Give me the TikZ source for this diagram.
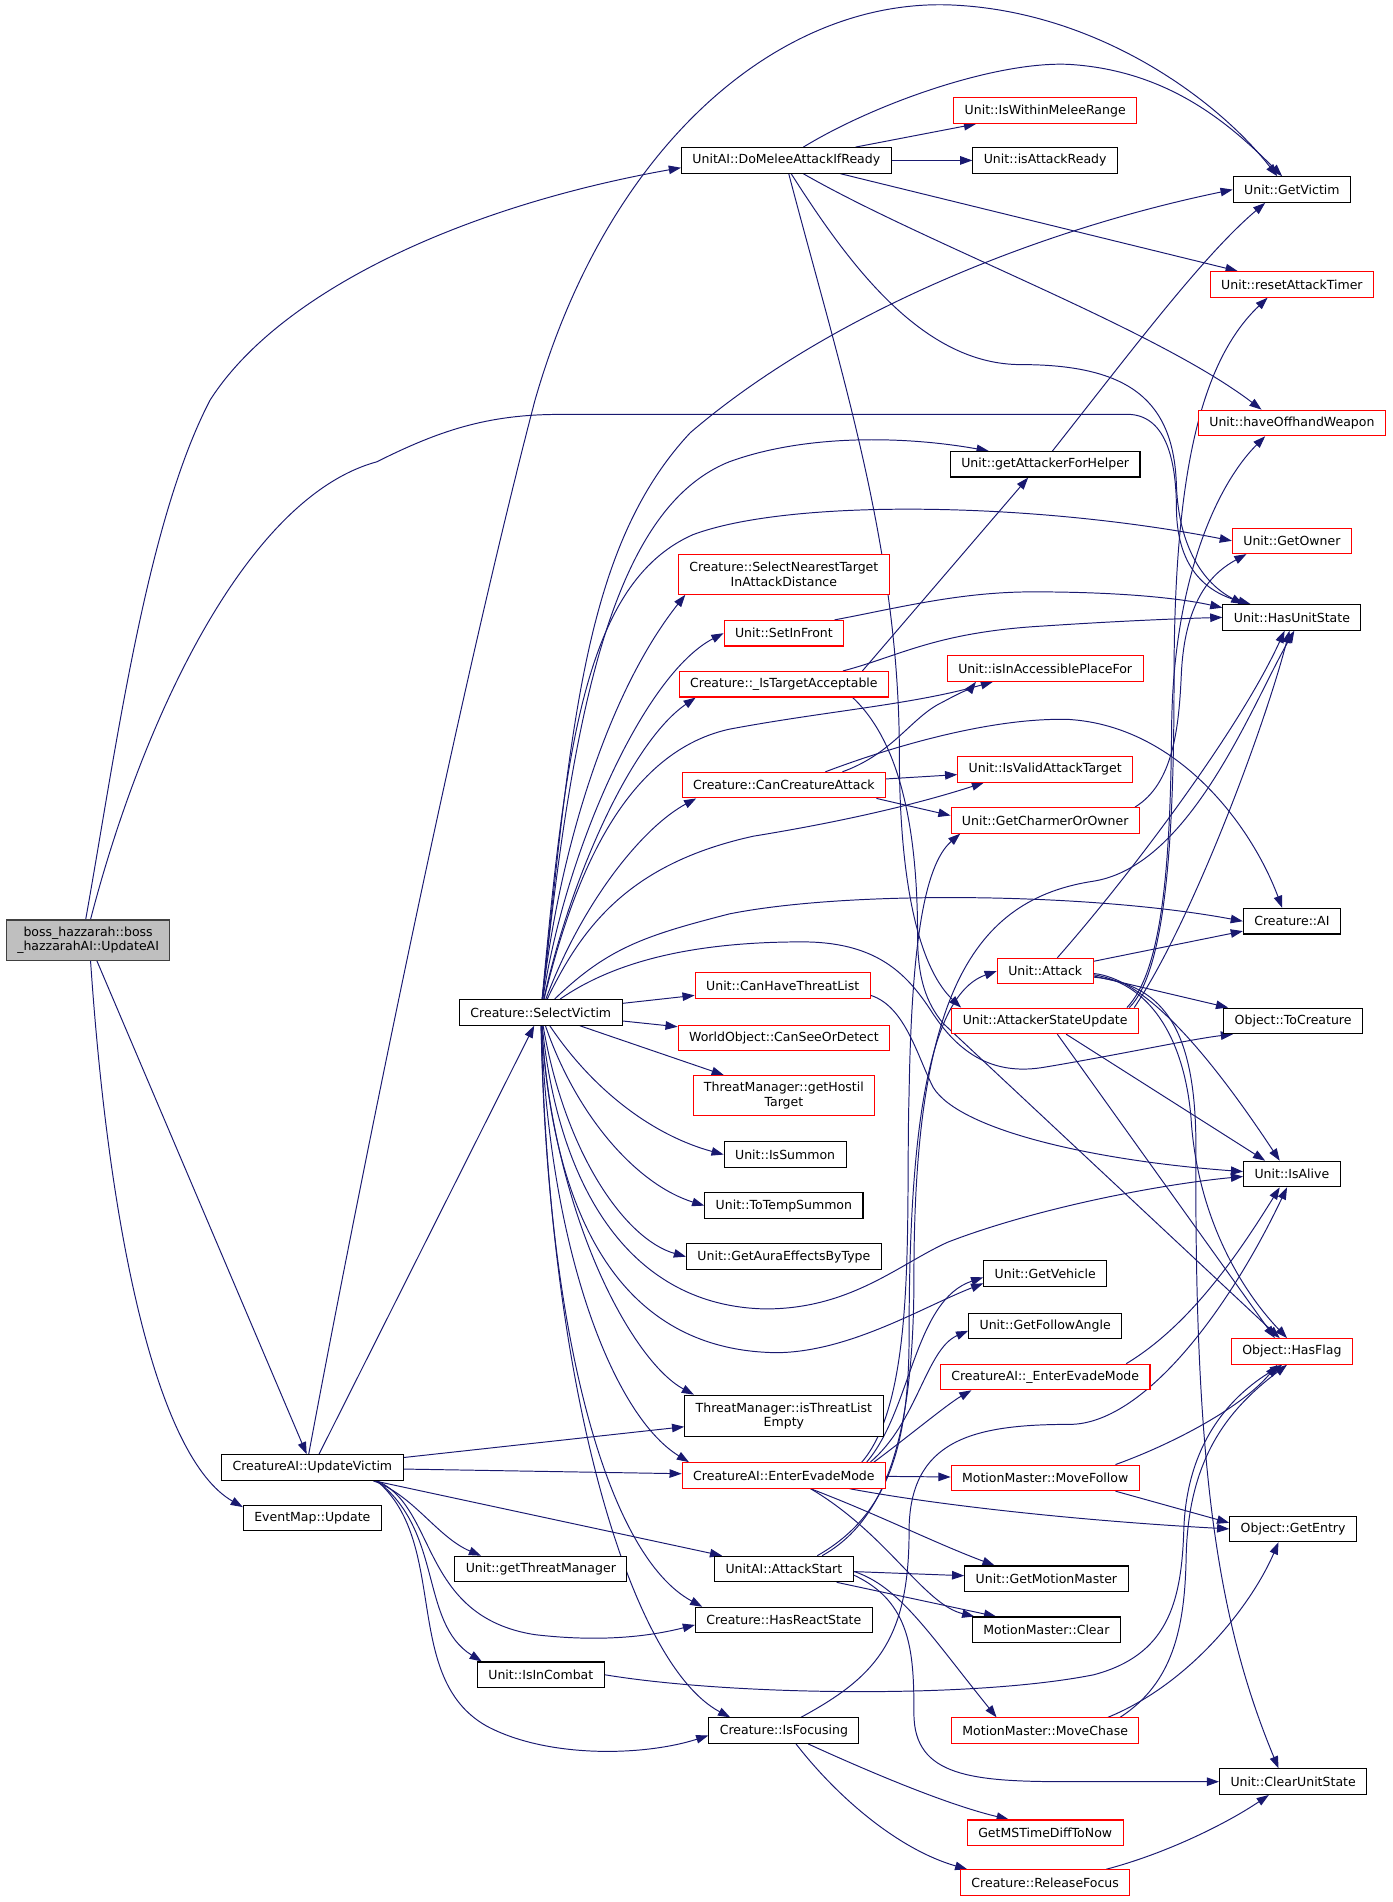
\documentclass[tikz,border=0pt]{standalone}
\usepackage{fontspec}
\setmainfont{DejaVu Sans}
\usepackage{tikz}
\usetikzlibrary{arrows.meta,backgrounds}
\definecolor{callblue}{HTML}{191970}
\definecolor{rootgray}{HTML}{BFBFBF}
\tikzstyle{fn}     = [draw=black, fill=white, line width=0.9pt, font=\fontsize{10.3}{12}\selectfont, align=center, inner xsep=9pt, inner ysep=2pt, minimum height=21pt]
\tikzstyle{fnred}  = [fn, draw=red]
\tikzstyle{fnroot} = [fn, fill=rootgray, draw=black!75, minimum height=33pt]
\tikzstyle{call}   = [callblue, line width=0.8pt, -{Triangle[length=10pt,width=7pt]}]

\begin{document}
\begin{tikzpicture}[x=1pt,y=-1pt]
	\useasboundingbox (0,0) rectangle (1146,1565);

	% callers on the left
	\node[fnroot] (updateai) at (72.5,773.5) {boss\_hazzarah::boss\\\_hazzarahAI::UpdateAI};
	\node[fn] (updatevictim) at (257,1207.5) {CreatureAI::UpdateVictim};
	\node[fn] (eventmap) at (257,1249) {EventMap::Update};
	\node[fn] (selectvictim) at (445,833) {Creature::SelectVictim};
	\node[fn] (threatmgr) at (445,1291) {Unit::getThreatManager};
	\node[fn] (incombat) at (445,1378) {Unit::IsInCombat};

	% middle column
	\node[fn] (domelee) at (647,132) {UnitAI::DoMeleeAttackIfReady};
	\node[fnred, minimum height=33pt] (nearest) at (645,472.5) {Creature::SelectNearestTarget\\InAttackDistance};
	\node[fnred] (setinfront) at (645,521) {Unit::SetInFront};
	\node[fnred] (acceptable) at (645,563) {Creature::\_IsTargetAcceptable};
	\node[fnred] (cancreature) at (645,646) {Creature::CanCreatureAttack};
	\node[fnred] (threatlist) at (644,811) {Unit::CanHaveThreatList};
	\node[fnred] (canseeor) at (645,854) {WorldObject::CanSeeOrDetect};
	\node[fnred, minimum height=33pt] (hostil) at (645,901.5) {ThreatManager::getHostil\\Target};
	\node[fn] (issummon) at (646,950) {Unit::IsSummon};
	\node[fn] (tempsummon) at (645,992) {Unit::ToTempSummon};
	\node[fn] (aura) at (645,1034) {Unit::GetAuraEffectsByType};
	\node[fn, minimum height=34pt] (threatempty) at (645,1165) {ThreatManager::isThreatList\\Empty};
	\node[fnred] (evade) at (645,1214) {CreatureAI::EnterEvadeMode};
	\node[fn] (attackstart) at (645,1291) {UnitAI::AttackStart};
	\node[fn] (hasreact) at (645,1333) {Creature::HasReactState};
	\node[fn] (isfocusing) at (645,1424) {Creature::IsFocusing};

	% second column from the right
	\node[fnred] (inmelee) at (860,91) {Unit::IsWithinMeleeRange};
	\node[fn] (attackready) at (860,132) {Unit::isAttackReady};
	\node[fn] (helper) at (860,382) {Unit::getAttackerForHelper};
	\node[fnred] (accessible) at (860,550) {Unit::isInAccessiblePlaceFor};
	\node[fnred] (validtarget) at (860,633) {Unit::IsValidAttackTarget};
	\node[fnred] (charmer) at (860,675) {Unit::GetCharmerOrOwner};
	\node[fnred] (attack) at (860,799) {Unit::Attack};
	\node[fnred] (stateupdate) at (860,840) {Unit::AttackerStateUpdate};
	\node[fn] (vehicle) at (860,1048) {Unit::GetVehicle};
	\node[fn] (followangle) at (860,1091) {Unit::GetFollowAngle};
	\node[fnred] (evadeint) at (860,1133) {CreatureAI::\_EnterEvadeMode};
	\node[fnred] (movefollow) at (860,1216) {MotionMaster::MoveFollow};
	\node[fn] (motionmaster) at (861,1299) {Unit::GetMotionMaster};
	\node[fn] (mmclear) at (861,1341) {MotionMaster::Clear};
	\node[fnred] (movechase) at (860,1424) {MotionMaster::MoveChase};
	\node[fnred] (mstime) at (860,1508) {GetMSTimeDiffToNow};
	\node[fnred] (releasefocus) at (860,1549) {Creature::ReleaseFocus};

	% right column
	\node[fn] (getvictim) at (1063,156) {Unit::GetVictim};
	\node[fnred] (resettimer) at (1063,234) {Unit::resetAttackTimer};
	\node[fnred] (offhand) at (1063,348) {Unit::haveOffhandWeapon};
	\node[fnred] (getowner) at (1063,445) {Unit::GetOwner};
	\node[fn] (hasstate) at (1063,508) {Unit::HasUnitState};
	\node[fn] (creatureai) at (1063,758) {Creature::AI};
	\node[fn] (tocreature) at (1064,840) {Object::ToCreature};
	\node[fn] (isalive) at (1063,966) {Unit::IsAlive};
	\node[fnred] (hasflag) at (1063,1112) {Object::HasFlag};
	\node[fn] (getentry) at (1064,1258) {Object::GetEntry};
	\node[fn] (clearstate) at (1064,1466) {Unit::ClearUnitState};

	\begin{scope}[on background layer]
	% boss_hazzarahAI::UpdateAI
	\draw[call] ([xshift=-2pt]updateai.north) .. controls (95,620) and (120,430) .. (173,329) .. controls (230,240) and (380,170) .. ([yshift=-6pt]domelee.west);
	\draw[call] ([xshift=2pt]updateai.north) .. controls (115,600) and (200,410) .. (310,380) .. controls (360,355) and (400,341) .. (460,341) -- (930,341) .. controls (960,343) and (968,380) .. (968,420) .. controls (969,470) and (995,488) .. ([xshift=-34pt]hasstate.north);
	\draw[call] (updateai) -- (updatevictim);
	\draw[call] ([xshift=2pt]updateai.south) .. controls (90,1020) and (130,1200) .. ([yshift=-2pt]eventmap.north west);

	% CreatureAI::UpdateVictim
	\draw[call] (updatevictim) -- (selectvictim);
	\draw[call] ([xshift=-3pt]updatevictim.north) .. controls (300,950) and (380,560) .. (440,330) .. controls (500,120) and (640,0) .. (780,4) .. controls (900,8) and (1000,80) .. ([xshift=-12pt]getvictim.north);
	\draw[call] (updatevictim) -- (threatempty);
	\draw[call] (updatevictim) -- (evade);
	\draw[call] (updatevictim) -- (attackstart);
	\draw[call] ([xshift=-25pt]updatevictim.south east) .. controls (340,1230) and (360,1265) .. ([xshift=22pt]threatmgr.north west);
	\draw[call] ([xshift=-22pt]updatevictim.south east) .. controls (360,1240) and (345,1330) .. (440,1345) .. controls (500,1352) and (540,1345) .. ([yshift=-4pt]hasreact.west);
	\draw[call] ([xshift=-22pt]updatevictim.south east) .. controls (365,1260) and (345,1335) .. ([xshift=4pt]incombat.north west);
	\draw[call] ([xshift=-22pt]updatevictim.south east) .. controls (370,1270) and (330,1380) .. (400,1420) .. controls (450,1447) and (530,1445) .. ([yshift=-4pt]isfocusing.west);

	% UnitAI::DoMeleeAttackIfReady
	\draw[call] (domelee) -- (inmelee);
	\draw[call] (domelee) -- (attackready);
	\draw[call] ([xshift=14pt]domelee.north) .. controls (720,85) and (820,50) .. (880,53) .. controls (960,58) and (1010,100) .. ([xshift=-8pt]getvictim.north);
	\draw[call] (domelee) -- (resettimer);
	\draw[call] ([xshift=14pt]domelee.south) .. controls (760,200) and (950,270) .. ([xshift=-25pt]offhand.north);
	\draw[call] ([xshift=4pt]domelee.south) .. controls (700,220) and (760,300) .. (840,300) .. controls (930,300) and (966,330) .. (968,400) .. controls (970,450) and (990,480) .. ([xshift=-40pt]hasstate.north);
	\draw[call] ([xshift=2pt]domelee.south) .. controls (690,300) and (740,450) .. (740,620) .. controls (740,740) and (760,800) .. ([xshift=8pt]stateupdate.north west);

	% Creature::SelectVictim
	\draw[call] (selectvictim) .. controls (470,600) and (480,450) .. (568,356) .. controls (680,260) and (850,190) .. (getvictim.west);
	\draw[call] (selectvictim) .. controls (470,600) and (500,420) .. (600,380) .. controls (660,358) and (740,358) .. ([xshift=32pt]helper.north west);
	\draw[call] (selectvictim) .. controls (465,620) and (480,480) .. (570,440) .. controls (650,410) and (850,413) .. (getowner.west);
	\draw[call] (selectvictim) .. controls (460,700) and (500,570) .. ([xshift=6pt]nearest.south west);
	\draw[call] (selectvictim) .. controls (465,700) and (530,555) .. (setinfront.west);
	\draw[call] (selectvictim) .. controls (470,720) and (520,610) .. ([xshift=14pt]acceptable.south west);
	\draw[call] (selectvictim) .. controls (470,730) and (510,620) .. (600,600) .. controls (680,585) and (750,580) .. ([xshift=38pt]accessible.south west);
	\draw[call] (selectvictim) .. controls (480,740) and (530,680) .. ([xshift=12pt]cancreature.south west);
	\draw[call] (selectvictim) .. controls (480,760) and (520,710) .. (620,688) .. controls (700,675) and (760,660) .. ([xshift=22pt]validtarget.south west);
	\draw[call] (selectvictim) .. controls (500,780) and (530,770) .. (600,752) .. controls (700,732) and (900,735) .. (creatureai.west);
	\draw[call] (selectvictim) .. controls (500,795) and (560,775) .. (660,775) .. controls (720,775) and (745,800) .. (765,830) .. controls (790,870) and (820,885) .. (860,878) .. controls (920,868) and (980,855) .. ([xshift=8pt]tocreature.south west);
	\draw[call] (selectvictim) -- (threatlist);
	\draw[call] (selectvictim) -- (canseeor);
	\draw[call] (selectvictim) -- (hostil);
	\draw[call] (selectvictim) .. controls (490,900) and (540,935) .. (issummon.west);
	\draw[call] (selectvictim) .. controls (475,920) and (525,975) .. (tempsummon.west);
	\draw[call] (selectvictim) .. controls (465,950) and (515,1020) .. (aura.west);
	\draw[call] (selectvictim) .. controls (460,980) and (520,1075) .. (630,1077) .. controls (700,1077) and (740,1040) .. (780,1022) .. controls (850,995) and (950,975) .. ([yshift=-2pt]isalive.west);
	\draw[call] (selectvictim) .. controls (455,1000) and (510,1112) .. (640,1113) .. controls (700,1112) and (760,1075) .. ([yshift=-8pt]vehicle.west);
	\draw[call] (selectvictim) .. controls (455,1000) and (520,1120) .. ([xshift=8pt]threatempty.north west);
	\draw[call] (selectvictim) .. controls (452,1030) and (505,1165) .. ([xshift=6pt]evade.north west);
	\draw[call] (selectvictim) .. controls (450,1100) and (500,1280) .. ([xshift=6pt]hasreact.north west);
	\draw[call] (selectvictim) .. controls (452,1150) and (520,1370) .. ([xshift=18pt]isfocusing.north west);

	% Creature::_IsTargetAcceptable, Unit::SetInFront
	\draw[call] ([xshift=-22pt]acceptable.north east) -- ([xshift=-14pt]helper.south);
	\draw[call] ([xshift=-38pt]acceptable.north east) .. controls (740,540) and (770,520) .. (860,515) .. controls (920,511) and (970,509) .. (hasstate.west);
	\draw[call] ([xshift=-30pt]acceptable.south east) .. controls (740,610) and (755,680) .. (755,770) .. controls (755,805) and (762,825) .. (776,842) -- ([xshift=-10pt]hasflag.north);
	\draw[call] ([xshift=-8pt]setinfront.north east) .. controls (740,500) and (790,487) .. (850,487) .. controls (920,487) and (970,492) .. ([yshift=8pt]hasstate.west);

	% Creature::CanCreatureAttack
	\draw[call] (cancreature) -- (validtarget);
	\draw[call] ([xshift=-8pt]cancreature.south east) -- ([yshift=4pt]charmer.west);
	\draw[call] ([xshift=-36pt]cancreature.north east) .. controls (735,620) and (750,590) .. (775,578) .. controls (790,570) and (800,565) .. ([xshift=24pt]accessible.south west);
	\draw[call] ([xshift=-50pt]cancreature.north east) .. controls (740,612) and (820,590) .. (880,592) .. controls (970,598) and (1030,680) .. ([xshift=-8pt]creatureai.north);

	% Unit::GetCharmerOrOwner, Unit::getAttackerForHelper, Unit::CanHaveThreatList
	\draw[call] ([xshift=-4pt]charmer.north east) .. controls (965,645) and (970,600) .. (972,555) .. controls (975,490) and (1000,470) .. ([xshift=12pt]getowner.south west);
	\draw[call] ([xshift=6pt]helper.north) .. controls (930,290) and (990,210) .. ([xshift=-22pt]getvictim.south);
	\draw[call] ([yshift=-8pt]threatlist.east) .. controls (745,828) and (755,870) .. (768,895) .. controls (790,930) and (900,955) .. ([yshift=2pt]isalive.west);

	% Unit::Attack
	\draw[call] ([xshift=10pt]attack.north) .. controls (930,720) and (1020,600) .. ([xshift=-6pt]hasstate.south);
	\draw[call] (attack) -- (creatureai);
	\draw[call] ([yshift=-4pt]attack.east) -- ([xshift=4pt]tocreature.north west);
	\draw[call] ([yshift=-2pt]attack.east) .. controls (940,805) and (990,860) .. ([xshift=-10pt]isalive.north);
	\draw[call] ([yshift=-3pt]attack.east) .. controls (950,810) and (975,860) .. (980,920) .. controls (985,1000) and (1020,1060) .. ([xshift=-4pt]hasflag.north);
	\draw[call] ([yshift=-5pt]attack.east) .. controls (960,810) and (985,850) .. (984,950) .. controls (983,1200) and (1000,1330) .. ([xshift=-12pt]clearstate.north);

	% Unit::AttackerStateUpdate
	\draw[call] ([xshift=-8pt]stateupdate.north east) .. controls (958,800) and (966,700) .. (966,560) .. controls (966,400) and (985,300) .. ([xshift=-20pt]resettimer.south);
	\draw[call] ([xshift=-10pt]stateupdate.north east) .. controls (955,800) and (963,720) .. (964,600) .. controls (965,480) and (1000,400) .. ([xshift=-22pt]offhand.south);
	\draw[call] ([xshift=-4pt]stateupdate.north east) .. controls (980,760) and (1040,600) .. ([xshift=-2pt]hasstate.south);
	\draw[call] ([xshift=-60pt]stateupdate.south east) -- ([xshift=-22pt]isalive.north);
	\draw[call] ([xshift=10pt]stateupdate.south) -- ([xshift=-14pt]hasflag.north);

	% CreatureAI::EnterEvadeMode
	\draw[call] ([xshift=-16pt]evade.north east) .. controls (750,1160) and (752,1070) .. ([yshift=-3pt]vehicle.west);
	\draw[call] ([xshift=-13pt]evade.north east) .. controls (755,1170) and (762,1110) .. ([yshift=-4pt]followangle.west);
	\draw[call] ([xshift=-10pt]evade.north east) .. controls (750,1180) and (780,1155) .. ([xshift=26pt]evadeint.south west);
	\draw[call] ([xshift=-20pt]evade.north east) .. controls (755,1150) and (745,1000) .. (748,900) .. controls (750,780) and (760,712) .. ([xshift=8pt]charmer.south west);
	\draw[call] (evade) -- (movefollow);
	\draw[call] ([xshift=-30pt]evade.south east) .. controls (780,1240) and (900,1252) .. (getentry.west);
	\draw[call] ([xshift=22pt]evade.south) .. controls (720,1245) and (770,1270) .. ([xshift=25pt]motionmaster.north west);
	\draw[call] ([xshift=22pt]evade.south) .. controls (730,1262) and (760,1320) .. ([xshift=2pt]mmclear.north west);

	% CreatureAI::_EnterEvadeMode, MotionMaster::MoveFollow, MotionMaster::MoveChase
	\draw[call] ([xshift=-20pt]evadeint.north east) .. controls (980,1090) and (1020,1030) .. ([xshift=-10pt]isalive.south);
	\draw[call] ([xshift=-20pt]movefollow.north east) .. controls (960,1190) and (1020,1160) .. ([xshift=-12pt]hasflag.south);
	\draw[call] ([xshift=-20pt]movefollow.south east) -- ([yshift=5pt]getentry.west);
	\draw[call] ([xshift=-16pt]movechase.north east) .. controls (965,1385) and (975,1340) .. (976,1280) .. controls (978,1200) and (1010,1160) .. ([xshift=-4pt]hasflag.south);
	\draw[call] ([xshift=-26pt]movechase.north east) .. controls (980,1385) and (1030,1320) .. ([xshift=-12pt]getentry.south);

	% Unit::IsInCombat
	\draw[call] (incombat.east) .. controls (600,1395) and (800,1398) .. (900,1378) .. controls (960,1362) and (972,1320) .. (974,1260) .. controls (976,1190) and (1010,1150) .. ([xshift=-8pt]hasflag.south);

	% Creature::IsFocusing, Creature::ReleaseFocus
	\draw[call] ([xshift=14pt]isfocusing.north) .. controls (720,1380) and (748,1350) .. (748,1260) .. controls (748,1185) and (800,1172) .. (880,1172) .. controls (940,1172) and (1010,1080) .. ([xshift=-4pt]isalive.south);
	\draw[call] ([xshift=20pt]isfocusing.south) .. controls (720,1460) and (780,1485) .. ([xshift=-30pt]mstime.north);
	\draw[call] ([xshift=10pt]isfocusing.south) .. controls (690,1480) and (740,1522) .. ([xshift=6pt]releasefocus.north west);
	\draw[call] ([xshift=-20pt]releasefocus.north east) .. controls (960,1525) and (1010,1500) .. ([xshift=-20pt]clearstate.south);

	% UnitAI::AttackStart
	\draw[call] ([xshift=-30pt]attackstart.north east) .. controls (725,1250) and (748,1200) .. (748,1100) .. controls (748,950) and (760,820) .. (attack.west);
	\draw[call] ([xshift=-26pt]attackstart.north east) .. controls (730,1250) and (752,1180) .. (752,1050) .. controls (752,820) and (800,740) .. (900,725) .. controls (980,712) and (1030,580) .. ([xshift=2pt]hasstate.south);
	\draw[call] (attackstart) -- (motionmaster);
	\draw[call] ([xshift=-14pt]attackstart.south east) -- ([xshift=20pt]mmclear.north west);
	\draw[call] ([yshift=-2pt]attackstart.east) .. controls (740,1305) and (765,1345) .. ([xshift=-40pt]movechase.north);
	\draw[call] ([yshift=-5pt]attackstart.east) .. controls (750,1318) and (752,1360) .. (752,1410) .. controls (752,1462) and (800,1466) .. (880,1466) -- (clearstate.west);
	\end{scope}
\end{tikzpicture}
\end{document}
